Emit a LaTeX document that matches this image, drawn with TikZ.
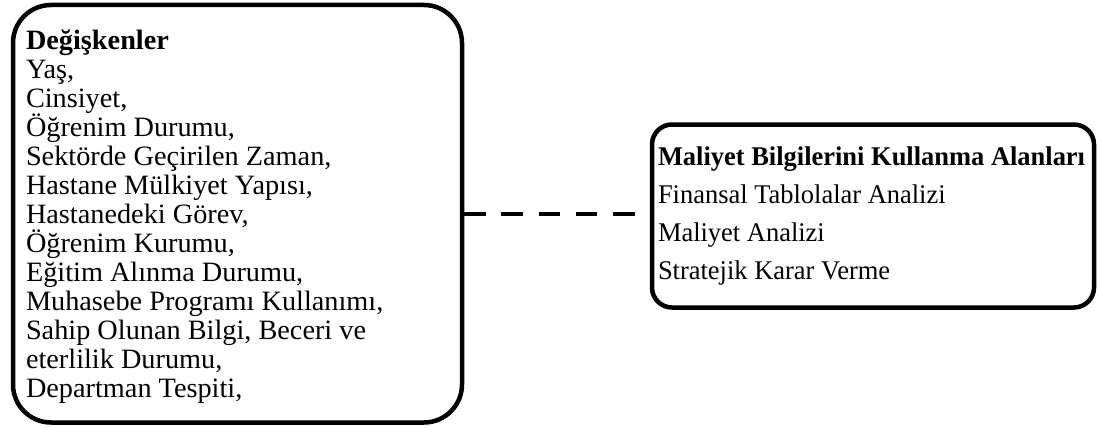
\documentclass[tikz,border=0pt]{standalone}
\usepackage{fontspec}
\setmainfont{Liberation Serif}
\newfontfamily\lfont[FakeStretch=1.01]{Liberation Serif}
\newfontfamily\rfont[FakeStretch=0.98]{Liberation Serif}
\tikzset{
  roundbox/.style={draw=black, line width=4.5pt, rectangle, inner sep=0pt},
  dashlink/.style={draw=black, line width=4.5pt, dash pattern=on 21.5pt off 15.7pt},
  boxtext/.style={anchor=base west, inner sep=0pt, outer sep=0pt}
}
\begin{document}
\begin{tikzpicture}[x=1pt,y=-1pt]
\useasboundingbox (0,0) rectangle (1097,428);
% boxes
\node[roundbox, rounded corners=38pt, minimum width=449pt, minimum height=417.5pt] (lbox) at (237.5,213.75) {};
\node[roundbox, rounded corners=20pt, minimum width=442pt, minimum height=183pt] (rbox) at (873,216) {};
% connector
\draw[dashlink] (lbox.east) -- (lbox.east -| rbox.west);
% texts
\node[boxtext] (ltext) at (26,49.5) {\lfont\fontsize{28pt}{29pt}\selectfont
\vtop{\baselineskip=29pt\lineskiplimit=-100pt\lineskip=0pt
\hbox{\bfseries Değişkenler}
\hbox{Yaş,}
\hbox{Cinsiyet,}
\hbox{Öğrenim Durumu,}
\hbox{Sektörde Geçirilen Zaman,}
\hbox{Hastane Mülkiyet Yapısı,}
\hbox{Hastanedeki Görev,}
\hbox{Öğrenim Kurumu,}
\hbox{Eğitim Alınma Durumu,}
\hbox{Muhasebe Programı Kullanımı,}
\hbox{Sahip Olunan Bilgi, Beceri ve}
\hbox{eterlilik Durumu,}
\hbox{Departman Tespiti,}}};
\node[boxtext] (rtext) at (658,165) {\rfont\fontsize{27pt}{38.3pt}\selectfont
\vtop{\baselineskip=38.3pt\lineskiplimit=-100pt\lineskip=0pt
\hbox{\bfseries Maliyet Bilgilerini Kullanma Alanları}
\hbox{Finansal Tablolalar Analizi}
\hbox{Maliyet Analizi}
\hbox{Stratejik Karar Verme}}};
\end{tikzpicture}
\end{document}
